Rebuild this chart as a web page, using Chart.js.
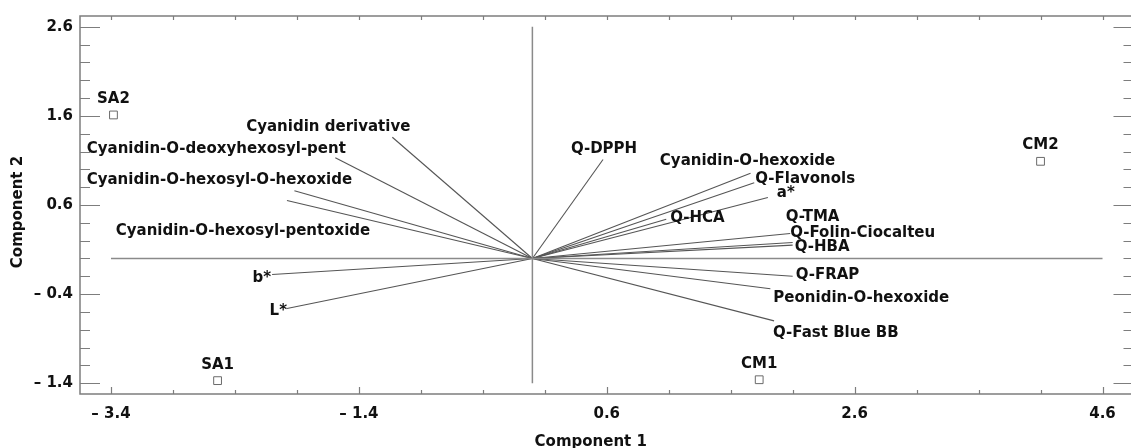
<!DOCTYPE html>
<html>
<head>
<meta charset="utf-8">
<script src="https://cdn.jsdelivr.net/npm/chart.js@4.4.1/dist/chart.umd.min.js"></script>
<style>
  html, body { margin: 0; padding: 0; background: #fff; overflow: hidden; }
  canvas { display: block; }
</style>
</head>
<body>
<canvas id="biplot" width="1140" height="448"></canvas>
<script>
// axis ticks
const xTicks = [-3.4, -1.4, 0.6, 2.6, 4.6];
const yTicks = [-1.4, -0.4, 0.6, 1.6, 2.6];

// sample scores
const sampleNames = ["SA2", "SA1", "CM1", "CM2"];
const sampleX = [-3.38, -2.54, 1.83, 4.10];
const sampleY = [1.61, -1.37, -1.36, 1.09];

// variable loadings (vector tips)
const variableNames = [
  "Cyanidin derivative", "Cyanidin-O-deoxyhexosyl-pent", "Cyanidin-O-hexosyl-O-hexoxide",
  "Cyanidin-O-hexosyl-pentoxide", "b*", "L*", "Q-DPPH", "Cyanidin-O-hexoxide",
  "Q-Flavonols", "a*", "Q-HCA", "Q-TMA", "Q-Folin-Ciocalteu", "Q-HBA", "Q-FRAP",
  "Peonidin-O-hexoxide", "Q-Fast Blue BB"
];
const loadingX = [-1.13, -1.59, -1.92, -1.98, -2.10, -1.98, 0.57, 1.76, 1.79, 1.90, 1.08, 2.10, 2.08, 2.10, 2.10, 1.92, 1.95];
const loadingY = [1.36, 1.13, 0.76, 0.65, -0.18, -0.56, 1.11, 0.955, 0.85, 0.685, 0.44, 0.18, 0.28, 0.15, -0.20, -0.34, -0.70];

// where each label sits relative to its vector tip: [dx, dy, align]
const labelPlacement = [
  [18, -10, "right"], [-119, -9, "center"], [-75, -11, "center"], [-44, 31, "center"],
  [-1, 4, "right"], [0, 3, "right"], [1, -10, "center"], [-3, -12, "center"],
  [1, -4, "left"], [9, -4, "left"], [4, -1, "left"], [-7, -25, "left"],
  [0, 0, "left"], [2, 2, "left"], [3, -1, "left"], [3, 9, "left"], [-1, 12, "left"]
];

const FONT = '"DejaVu Sans", sans-serif';
const fmt = (v) => (v < 0 ? "\u2013 " + Math.abs(v).toFixed(1) : v.toFixed(1));

const datasets = [];
// centre axes
datasets.push({
  data: [{ x: xTicks[0], y: 0 }, { x: xTicks[xTicks.length - 1], y: 0 }],
  showLine: true, borderColor: "#8a8a8a", borderWidth: 1.5, pointRadius: 0
});
datasets.push({
  data: [{ x: 0, y: yTicks[0] }, { x: 0, y: yTicks[yTicks.length - 1] }],
  showLine: true, borderColor: "#8a8a8a", borderWidth: 1.5, pointRadius: 0
});
// loading vectors
variableNames.forEach((name, i) => {
  datasets.push({
    label: name,
    data: [{ x: 0, y: 0 }, { x: loadingX[i], y: loadingY[i] }],
    showLine: true, borderColor: "#555", borderWidth: 1.1, pointRadius: 0
  });
});
// samples
datasets.push({
  label: "samples",
  data: sampleX.map((x, i) => ({ x: x, y: sampleY[i] })),
  pointStyle: "rect", pointRadius: 5.5, backgroundColor: "#fff",
  borderColor: "#6a6a6a", borderWidth: 1
});

const decorations = {
  id: "decorations",
  afterDatasetsDraw(chart) {
    const { ctx, chartArea: a, scales } = chart;
    const xs = scales.x, ys = scales.y;
    ctx.save();
    ctx.strokeStyle = "#7d7d7d";
    ctx.lineWidth = 1.5;
    ctx.strokeRect(a.left, a.top, a.right - a.left, a.bottom - a.top);

    ctx.lineWidth = 1.2;
    ctx.beginPath();
    // x ticks: major every 2, minor every 0.5
    for (let v = xTicks[0]; v <= xTicks[xTicks.length - 1] + 1e-9; v += 0.5) {
      const px = Math.round(xs.getPixelForValue(v)) + 0.5;
      const major = xTicks.some((t) => Math.abs(t - v) < 1e-6);
      ctx.moveTo(px, a.bottom); ctx.lineTo(px, a.bottom - (major ? 7 : 4));
      ctx.moveTo(px, a.top); ctx.lineTo(px, a.top + 4);
    }
    // y ticks: major every 1, minor every 0.2
    for (let v = yTicks[0]; v <= yTicks[yTicks.length - 1] + 1e-9; v += 0.2) {
      const py = Math.round(ys.getPixelForValue(v)) + 0.5;
      const major = yTicks.some((t) => Math.abs(t - v) < 1e-6);
      ctx.moveTo(a.left, py); ctx.lineTo(a.left + (major ? 20 : 10), py);
      ctx.moveTo(a.right, py); ctx.lineTo(a.right - (major ? 20 : 10), py);
    }
    ctx.stroke();

    ctx.fillStyle = "#111";
    ctx.font = "bold 15px " + FONT;
    ctx.textBaseline = "middle";
    variableNames.forEach((name, i) => {
      const px = xs.getPixelForValue(loadingX[i]);
      const py = ys.getPixelForValue(loadingY[i]);
      const p = labelPlacement[i];
      ctx.textAlign = p[2];
      ctx.fillText(name, px + p[0], py + p[1]);
    });
    ctx.textAlign = "center";
    sampleNames.forEach((name, i) => {
      ctx.fillText(name, xs.getPixelForValue(sampleX[i]), ys.getPixelForValue(sampleY[i]) - 16);
    });

    // axis titles
    ctx.fillText("Component 1", (a.left + a.right) / 2 - 16, a.bottom + 48);
    ctx.translate(18, (a.top + a.bottom) / 2 + 7);
    ctx.rotate(-Math.PI / 2);
    ctx.fillText("Component 2", 0, 0);
    ctx.restore();
  }
};

const tickFont = { family: FONT, size: 15, weight: "bold" };

new Chart(document.getElementById("biplot").getContext("2d"), {
  type: "scatter",
  data: { datasets: datasets },
  options: {
    responsive: false,
    animation: false,
    layout: { padding: { top: 16, right: 2, left: 0, bottom: 0 } },
    plugins: { legend: { display: false }, tooltip: { enabled: false } },
    scales: {
      x: {
        type: "linear", min: -3.65, max: 4.85,
        grid: { display: false, drawTicks: false }, border: { display: false },
        afterBuildTicks: (s) => { s.ticks = xTicks.map((v) => ({ value: v })); },
        afterFit: (s) => { s.height = 54; },
        ticks: { padding: 11, maxRotation: 0, autoSkip: false, color: "#111", font: tickFont, callback: fmt }
      },
      y: {
        type: "linear", min: -1.52, max: 2.72,
        grid: { display: false, drawTicks: false }, border: { display: false },
        afterBuildTicks: (s) => { s.ticks = yTicks.map((v) => ({ value: v })); },
        afterFit: (s) => { s.width = 80; },
        ticks: { padding: 7, autoSkip: false, color: "#111", font: tickFont, callback: fmt }
      }
    }
  },
  plugins: [decorations]
});
</script>
</body>
</html>
